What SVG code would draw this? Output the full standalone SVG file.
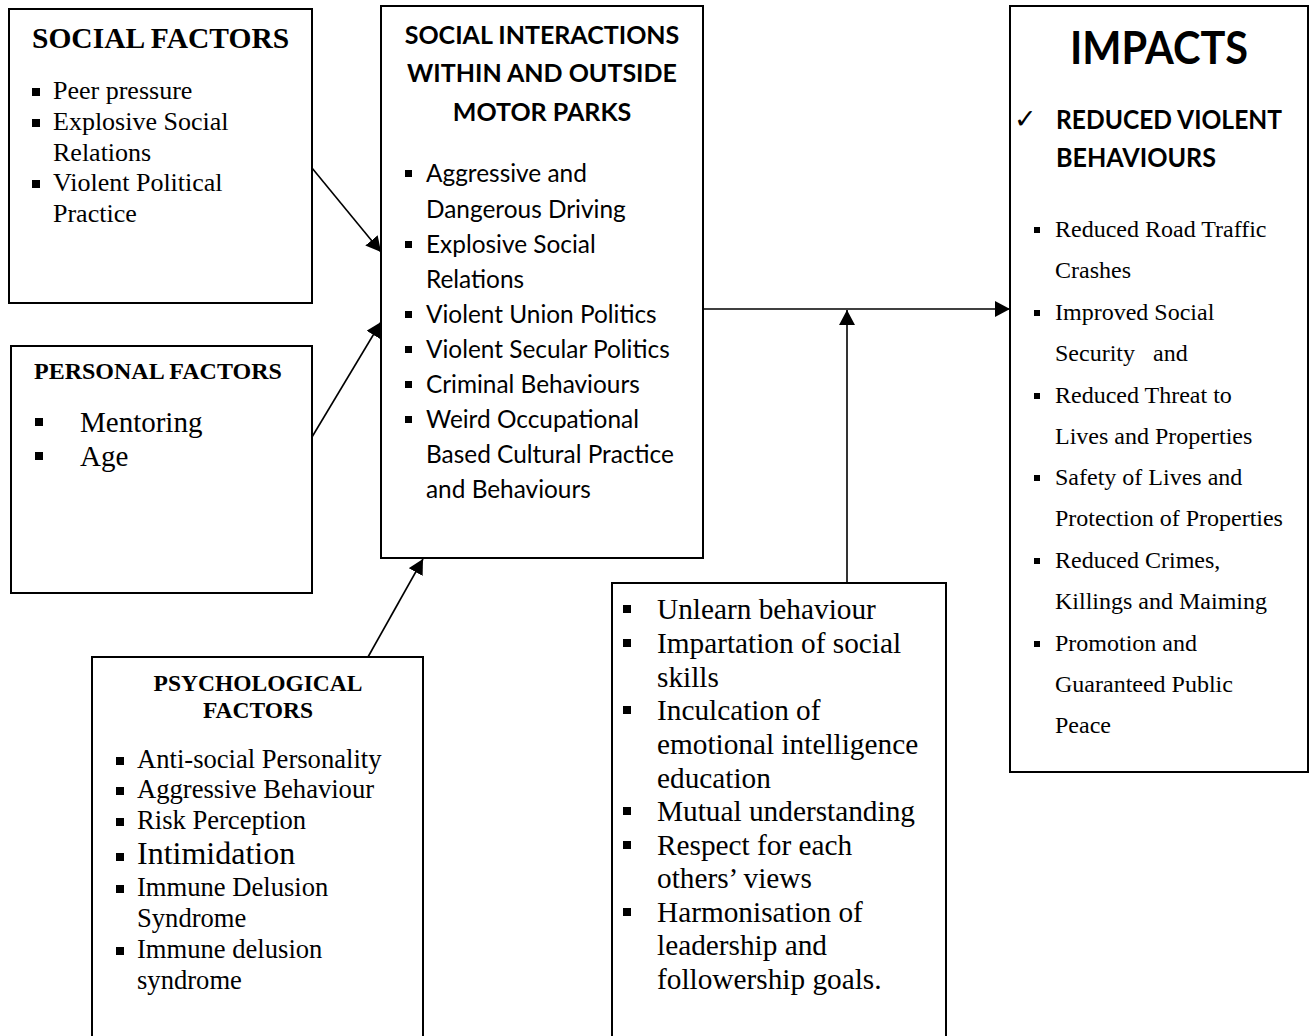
<svg xmlns="http://www.w3.org/2000/svg" width="1314" height="1036" viewBox="0 0 1314 1036">
<style>
.box{fill:#fff;stroke:#000;stroke-width:2}
.ser{font-family:"Liberation Serif","Times New Roman",serif;fill:#000}
.serb{font-family:"Liberation Serif","Times New Roman",serif;font-weight:bold;fill:#000}
.sans{font-family:Lato,"Open Sans","Liberation Sans",sans-serif;fill:#000}
.sansb{font-family:Lato,"Open Sans","Liberation Sans",sans-serif;font-weight:bold;fill:#000}
.b{fill:#000}
.con{stroke:#000;stroke-width:1.6;fill:none}
.pre{white-space:pre}
</style>
<defs>
<marker id="ah" markerUnits="userSpaceOnUse" markerWidth="16" markerHeight="16" refX="15" refY="8" orient="auto">
<path d="M0,0 L15,8 L0,16 Z" fill="#000"/>
</marker>
</defs>
<rect width="1314" height="1036" fill="#fff"/>

<g id="social-factors">
<rect class="box" x="9" y="9" width="303" height="294"/>
<text class="serb" x="32" y="48" font-size="29.5">SOCIAL FACTORS</text>
<g class="ser" font-size="26">
<rect class="b" x="32" y="88" width="8" height="8"/><text x="53" y="99">Peer pressure</text>
<rect class="b" x="32" y="119" width="8" height="8"/><text x="53" y="130">Explosive Social</text>
<text x="53" y="161">Relations</text>
<rect class="b" x="32" y="180" width="8" height="8"/><text x="53" y="191">Violent Political</text>
<text x="53" y="222">Practice</text>
</g>
</g>

<g id="personal-factors">
<rect class="box" x="11" y="346" width="301" height="247"/>
<text class="serb" x="34" y="379" font-size="24">PERSONAL FACTORS</text>
<g class="ser" font-size="29">
<rect class="b" x="35" y="418" width="8" height="8"/><text x="80" y="432">Mentoring</text>
<rect class="b" x="35" y="452" width="8" height="8"/><text x="80" y="466">Age</text>
</g>
</g>

<g id="social-interactions">
<rect class="box" x="381" y="6" width="322" height="552"/>
<g class="sansb" font-size="25" text-anchor="middle">
<text x="542" y="44">SOCIAL INTERACTIONS</text>
<text x="542" y="82">WITHIN AND OUTSIDE</text>
<text x="542" y="121">MOTOR PARKS</text>
</g>
<g class="sans" font-size="24.4">
<rect class="b" x="405" y="170" width="7" height="7"/><text x="426" y="182">Aggressive and</text>
<text x="426" y="218">Dangerous Driving</text>
<rect class="b" x="405" y="241" width="7" height="7"/><text x="426" y="253">Explosive Social</text>
<text x="426" y="288">Relations</text>
<rect class="b" x="405" y="311" width="7" height="7"/><text x="426" y="323">Violent Union Politics</text>
<rect class="b" x="405" y="346" width="7" height="7"/><text x="426" y="358">Violent Secular Politics</text>
<rect class="b" x="405" y="381" width="7" height="7"/><text x="426" y="393">Criminal Behaviours</text>
<rect class="b" x="405" y="416" width="7" height="7"/><text x="426" y="428">Weird Occupational</text>
<text x="426" y="463">Based Cultural Practice</text>
<text x="426" y="498">and Behaviours</text>
</g>
</g>

<g id="psychological-factors">
<rect class="box" x="92" y="657" width="331" height="400"/>
<g class="serb" font-size="23.5" text-anchor="middle">
<text x="258" y="691">PSYCHOLOGICAL</text>
<text x="258" y="718">FACTORS</text>
</g>
<g class="ser" font-size="26.6">
<rect class="b" x="116" y="757" width="8" height="8"/><text x="137" y="768">Anti-social Personality</text>
<rect class="b" x="116" y="787" width="8" height="8"/><text x="137" y="798">Aggressive Behaviour</text>
<rect class="b" x="116" y="818" width="8" height="8"/><text x="137" y="829">Risk Perception</text>
<rect class="b" x="116" y="853" width="8" height="8"/><text x="137" y="864" font-size="32">Intimidation</text>
<rect class="b" x="116" y="885" width="8" height="8"/><text x="137" y="896">Immune Delusion</text>
<text x="137" y="927">Syndrome</text>
<rect class="b" x="116" y="947" width="8" height="8"/><text x="137" y="958">Immune delusion</text>
<text x="137" y="989">syndrome</text>
</g>
</g>

<g id="interventions">
<rect class="box" x="612" y="583" width="334" height="470"/>
<g class="ser" font-size="29.3">
<rect class="b" x="623" y="605" width="8" height="8"/><text x="657" y="619">Unlearn behaviour</text>
<rect class="b" x="623" y="639" width="8" height="8"/><text x="657" y="653">Impartation of social</text>
<text x="657" y="687">skills</text>
<rect class="b" x="623" y="706" width="8" height="8"/><text x="657" y="720">Inculcation of</text>
<text x="657" y="754">emotional intelligence</text>
<text x="657" y="788">education</text>
<rect class="b" x="623" y="807" width="8" height="8"/><text x="657" y="821">Mutual understanding</text>
<rect class="b" x="623" y="841" width="8" height="8"/><text x="657" y="855">Respect for each</text>
<text x="657" y="888">others’ views</text>
<rect class="b" x="623" y="908" width="8" height="8"/><text x="657" y="922">Harmonisation of</text>
<text x="657" y="955">leadership and</text>
<text x="657" y="989">followership goals.</text>
</g>
</g>

<g id="impacts">
<rect class="box" x="1010" y="6" width="298" height="766"/>
<text class="sansb" x="1070" y="64" font-size="45" textLength="178" lengthAdjust="spacingAndGlyphs">IMPACTS</text>
<text x="1014" y="128" font-size="27" font-family="DejaVu Sans,sans-serif">✓</text>
<g class="sansb" font-size="26.5">
<text x="1056" y="129" textLength="226" lengthAdjust="spacingAndGlyphs">REDUCED VIOLENT</text>
<text x="1056" y="167" textLength="160" lengthAdjust="spacingAndGlyphs">BEHAVIOURS</text>
</g>
<g class="ser" font-size="24">
<rect class="b" x="1034" y="227" width="6" height="6"/><text x="1055" y="237">Reduced Road Traffic</text>
<text x="1055" y="278">Crashes</text>
<rect class="b" x="1034" y="310" width="6" height="6"/><text x="1055" y="320">Improved Social</text>
<text class="pre" x="1055" y="361">Security   and</text>
<rect class="b" x="1034" y="393" width="6" height="6"/><text x="1055" y="403">Reduced Threat to</text>
<text x="1055" y="444">Lives and Properties</text>
<rect class="b" x="1034" y="475" width="6" height="6"/><text x="1055" y="485">Safety of Lives and</text>
<text x="1055" y="526">Protection of Properties</text>
<rect class="b" x="1034" y="558" width="6" height="6"/><text x="1055" y="568">Reduced Crimes,</text>
<text x="1055" y="609">Killings and Maiming</text>
<rect class="b" x="1034" y="641" width="6" height="6"/><text x="1055" y="651">Promotion and</text>
<text x="1055" y="692">Guaranteed Public</text>
<text x="1055" y="733">Peace</text>
</g>
</g>

<g id="connectors">
<line class="con" x1="312" y1="168" x2="381" y2="252" marker-end="url(#ah)"/>
<line class="con" x1="312" y1="437" x2="381" y2="322" marker-end="url(#ah)"/>
<line class="con" x1="368" y1="657" x2="423" y2="559" marker-end="url(#ah)"/>
<line class="con" x1="703" y1="309" x2="1010" y2="309" marker-end="url(#ah)"/>
<line class="con" x1="847" y1="583" x2="847" y2="310" marker-end="url(#ah)"/>
</g>
</svg>
